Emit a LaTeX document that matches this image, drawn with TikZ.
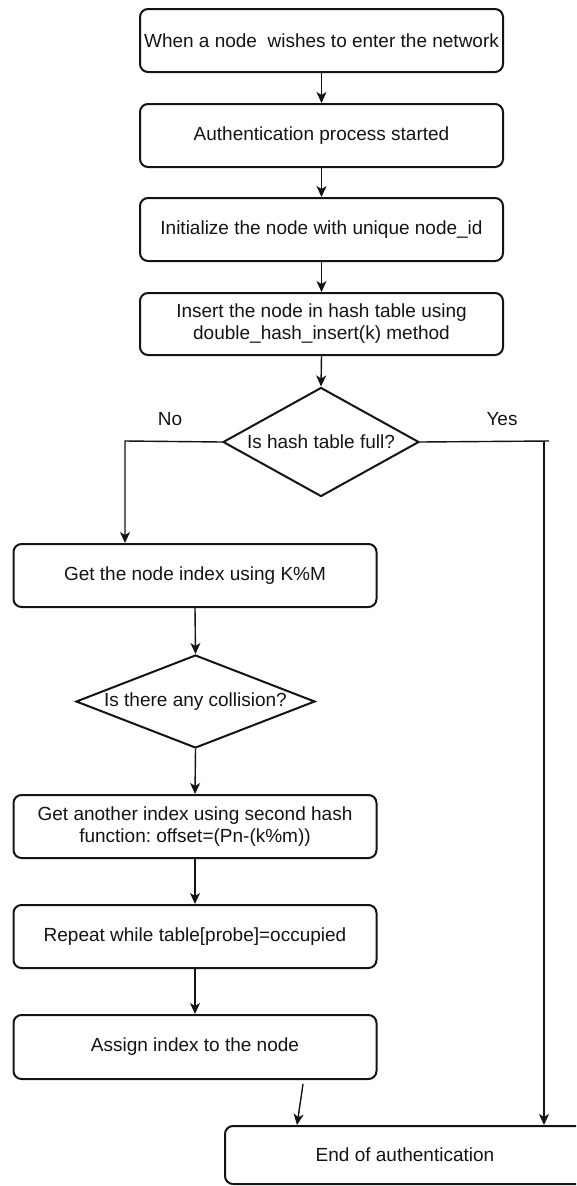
\documentclass[tikz,border=0pt]{standalone}
\usepackage{fontspec}
\setmainfont{Liberation Sans}
\usetikzlibrary{shapes.geometric,arrows.meta,calc}
\frenchspacing
\begin{document}
\begin{tikzpicture}[x=1pt,y=-1pt,
  every node/.style={font=\fontsize{19}{22}\selectfont, text=black!92},
  stepbox/.style={draw=black!92, line width=2pt, rounded corners=8pt, fill=white,
    minimum width=363pt, minimum height=63pt, align=center, inner sep=0pt},
  decision/.style={draw=black!92, line width=2pt, diamond, inner sep=0pt, fill=white},
  flow/.style={draw=black!92, line width=1.4pt, -{Stealth[length=11pt,width=10pt,inset=3pt]}},
  wire/.style={draw=black!92, line width=1.4pt}
]
% page area
\useasboundingbox (0,0) rectangle (576,1186);
\fill[white] (0,0) rectangle (576,1186);
\clip (0,0) rectangle (576,1186);

% main column
\node[stepbox] (s1) at (321.5,40.5) {When a node\ \ wishes to enter the network};
\node[stepbox] (s2) at (321.5,135.5) {Authentication process started};
\node[stepbox] (s3) at (321.5,229.5) {Initialize the node with unique node\_id};
\node[stepbox, minimum height=62pt] (s4) at (321.5,324) {Insert the node in hash table using\\double\_hash\_insert(k) method};
\node[decision, minimum width=196pt, minimum height=109pt, aspect=1.8] (d1) at (321,442) {Is hash table full?};

% left column
\node[stepbox] (s5) at (195,575.5) {Get the node index using K\%M};
\node[decision, minimum width=239pt, minimum height=93pt, aspect=2.57] (d2) at (195.5,701.5) {Is there any collision?};
\node[stepbox] (s6) at (195,826.5) {Get another index using second hash\\function: offset=(Pn-(k\%m))};
\node[stepbox] (s7) at (195,936.5) {Repeat while table[probe]=occupied};
\node[stepbox, minimum height=64pt] (s8) at (195,1047) {Assign index to the node};

% final step
\node[stepbox, minimum width=360pt, minimum height=58pt] (e) at (405,1155) {End of authentication};

% branch labels
\node (no) at (170,419) {No};
\node (yes) at (502,419) {Yes};

% bends of the branch lines
\coordinate (nc) at (125,441);
\coordinate (yc) at (544,441);

% connectors
\draw[flow] (s1.south) -- (s2.north);
\draw[flow] (s2.south) -- (s3.north);
\draw[flow] (s3.south) -- (s4.north);
\draw[flow] (s4.south) -- (d1.north);
\draw[flow] (d1.west) -- (nc) -- (nc |- s5.north);
\draw[wire] (d1.east) -- ([xshift=5pt]yc);
\draw[flow] (yc) -- (yc |- e.north);
\draw[flow] (s5.south) -- (d2.north);
\draw[flow] (d2.south) -- (s6.north);
\draw[flow] (s6.south) -- (s7.north);
\draw[flow] (s7.south) -- (s8.north);
\draw[flow] ($(s8.south)+(108,4)$) -- ($(e.north west)+(73,0)$);
\end{tikzpicture}
\end{document}
